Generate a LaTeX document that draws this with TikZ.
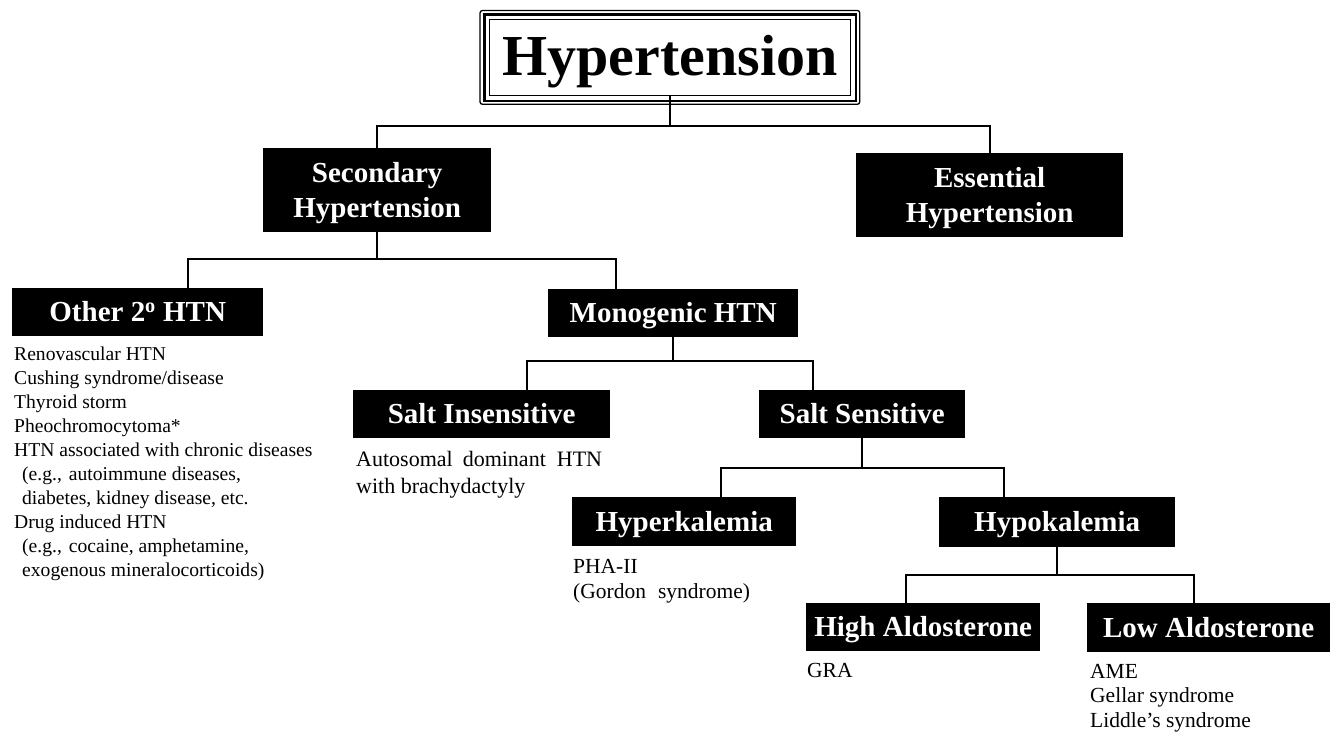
\documentclass[tikz,border=0pt]{standalone}
\usepackage{fontspec}
\setmainfont{Liberation Serif}
\usetikzlibrary{calc}

\begin{document}
\begin{tikzpicture}[x=1pt,y=1pt,yscale=-1,xscale=1,
    blackbox/.style={fill=black, text=white, inner sep=0pt, align=center, anchor=north west,
      text depth=0pt, font=\bfseries\fontsize{29}{35}\selectfont},
    onebox/.style={blackbox, text height=19.5pt, minimum height=48},
    link/.style={line width=2pt, line cap=rect},
    desc/.style={anchor=base west, inner sep=0pt, align=left, font=\fontsize{21.5}{24.5}\selectfont}]
\useasboundingbox (0,0) rectangle (1336,739);

% Title Node
\node [draw, line width=1.3pt, anchor=north west, inner sep=0pt, minimum width=361, minimum height=76,
  text depth=5pt, font=\bfseries\fontsize{58}{60}\selectfont] (htn) at (489,19) {Hypertension};
\draw [line width=2.6pt] ([shift={(-4.5,-4.5)}]htn.north west) rectangle ([shift={(4.5,4.5)}]htn.south east);
\draw [line width=1.3pt, rounded corners=2.5pt] ([shift={(-9,-8.5)}]htn.north west) rectangle ([shift={(8.5,8)}]htn.south east);

% Box Nodes
\node [blackbox, minimum width=228, minimum height=84] (sec) at (263,148) {Secondary\\Hypertension};
\node [blackbox, minimum width=267, minimum height=84] (ess) at (856,153) {Essential\\Hypertension};
\node [onebox, minimum width=251] (oth) at (12,288) {Other 2\textsuperscript{o} HTN};
\node [onebox, minimum width=250] (mono) at (548,289) {Monogenic HTN};
\node [onebox, minimum width=257] (sins) at (353,390) {Salt Insensitive};
\node [onebox, minimum width=206] (ssen) at (759,390) {Salt Sensitive};
\node [onebox, minimum width=224, minimum height=49] (hyper) at (572,497) {Hyperkalemia};
\node [onebox, minimum width=236, minimum height=50] (hypo) at (939,497) {Hypokalemia};
\node [onebox, minimum width=234] (high) at (806,603) {High Aldosterone};
\node [onebox, minimum width=243, minimum height=49] (low) at (1087,603) {Low Aldosterone};

% Text Nodes (base = last line)
\node [desc, font=\fontsize{19.6}{24}\selectfont] (othtxt) at (14,576) {Renovascular HTN\\Cushing syndrome/disease\\Thyroid storm\\Pheochromocytoma*\\HTN associated with chronic diseases\\\hspace*{8pt}(e.g.,\hspace{7pt}autoimmune diseases,\\\hspace*{8pt}diabetes, kidney disease, etc.\\Drug induced HTN\\\hspace*{8pt}(e.g.,\hspace{7pt}cocaine, amphetamine,\\\hspace*{8pt}exogenous mineralocorticoids)};
\node [desc, font=\fontsize{22}{27}\selectfont] (sinstxt) at (356,493) {Autosomal\hspace{10pt}dominant\hspace{11pt}HTN\\with brachydactyly};
\node [desc, font=\fontsize{21.5}{25}\selectfont] (hypertxt) at (573,598) {PHA-II\\(Gordon\hspace{12pt}syndrome)};
\node [desc] (hightxt) at (807,677) {GRA};
\node [desc] (lowtxt) at (1090,727) {AME\\Gellar syndrome\\Liddle’s syndrome};

% Connectors
\draw [link] (htn.south) -- ++(0,30) coordinate (j1);
\draw [link] (sec.north) |- (j1) -| (ess.north);
\draw [link] (sec.south) -- ++(0,27) coordinate (j2);
\draw [link] ([xshift=50]oth.north) |- (j2) -| ([xshift=-57]mono.north);
\draw [link] (mono.south) -- ++(0,24) coordinate (j3);
\draw [link] ([xshift=45]sins.north) |- (j3) -| ([xshift=-49]ssen.north);
\draw [link] (ssen.south) -- ++(0,30) coordinate (j4);
\draw [link] ([xshift=37]hyper.north) |- (j4) -| ([xshift=-53]hypo.north);
\draw [link] (hypo.south) -- ++(0,28) coordinate (j5);
\draw [link] ([xshift=-17]high.north) |- (j5) -| ([xshift=-15]low.north);

\end{tikzpicture}
\end{document}
